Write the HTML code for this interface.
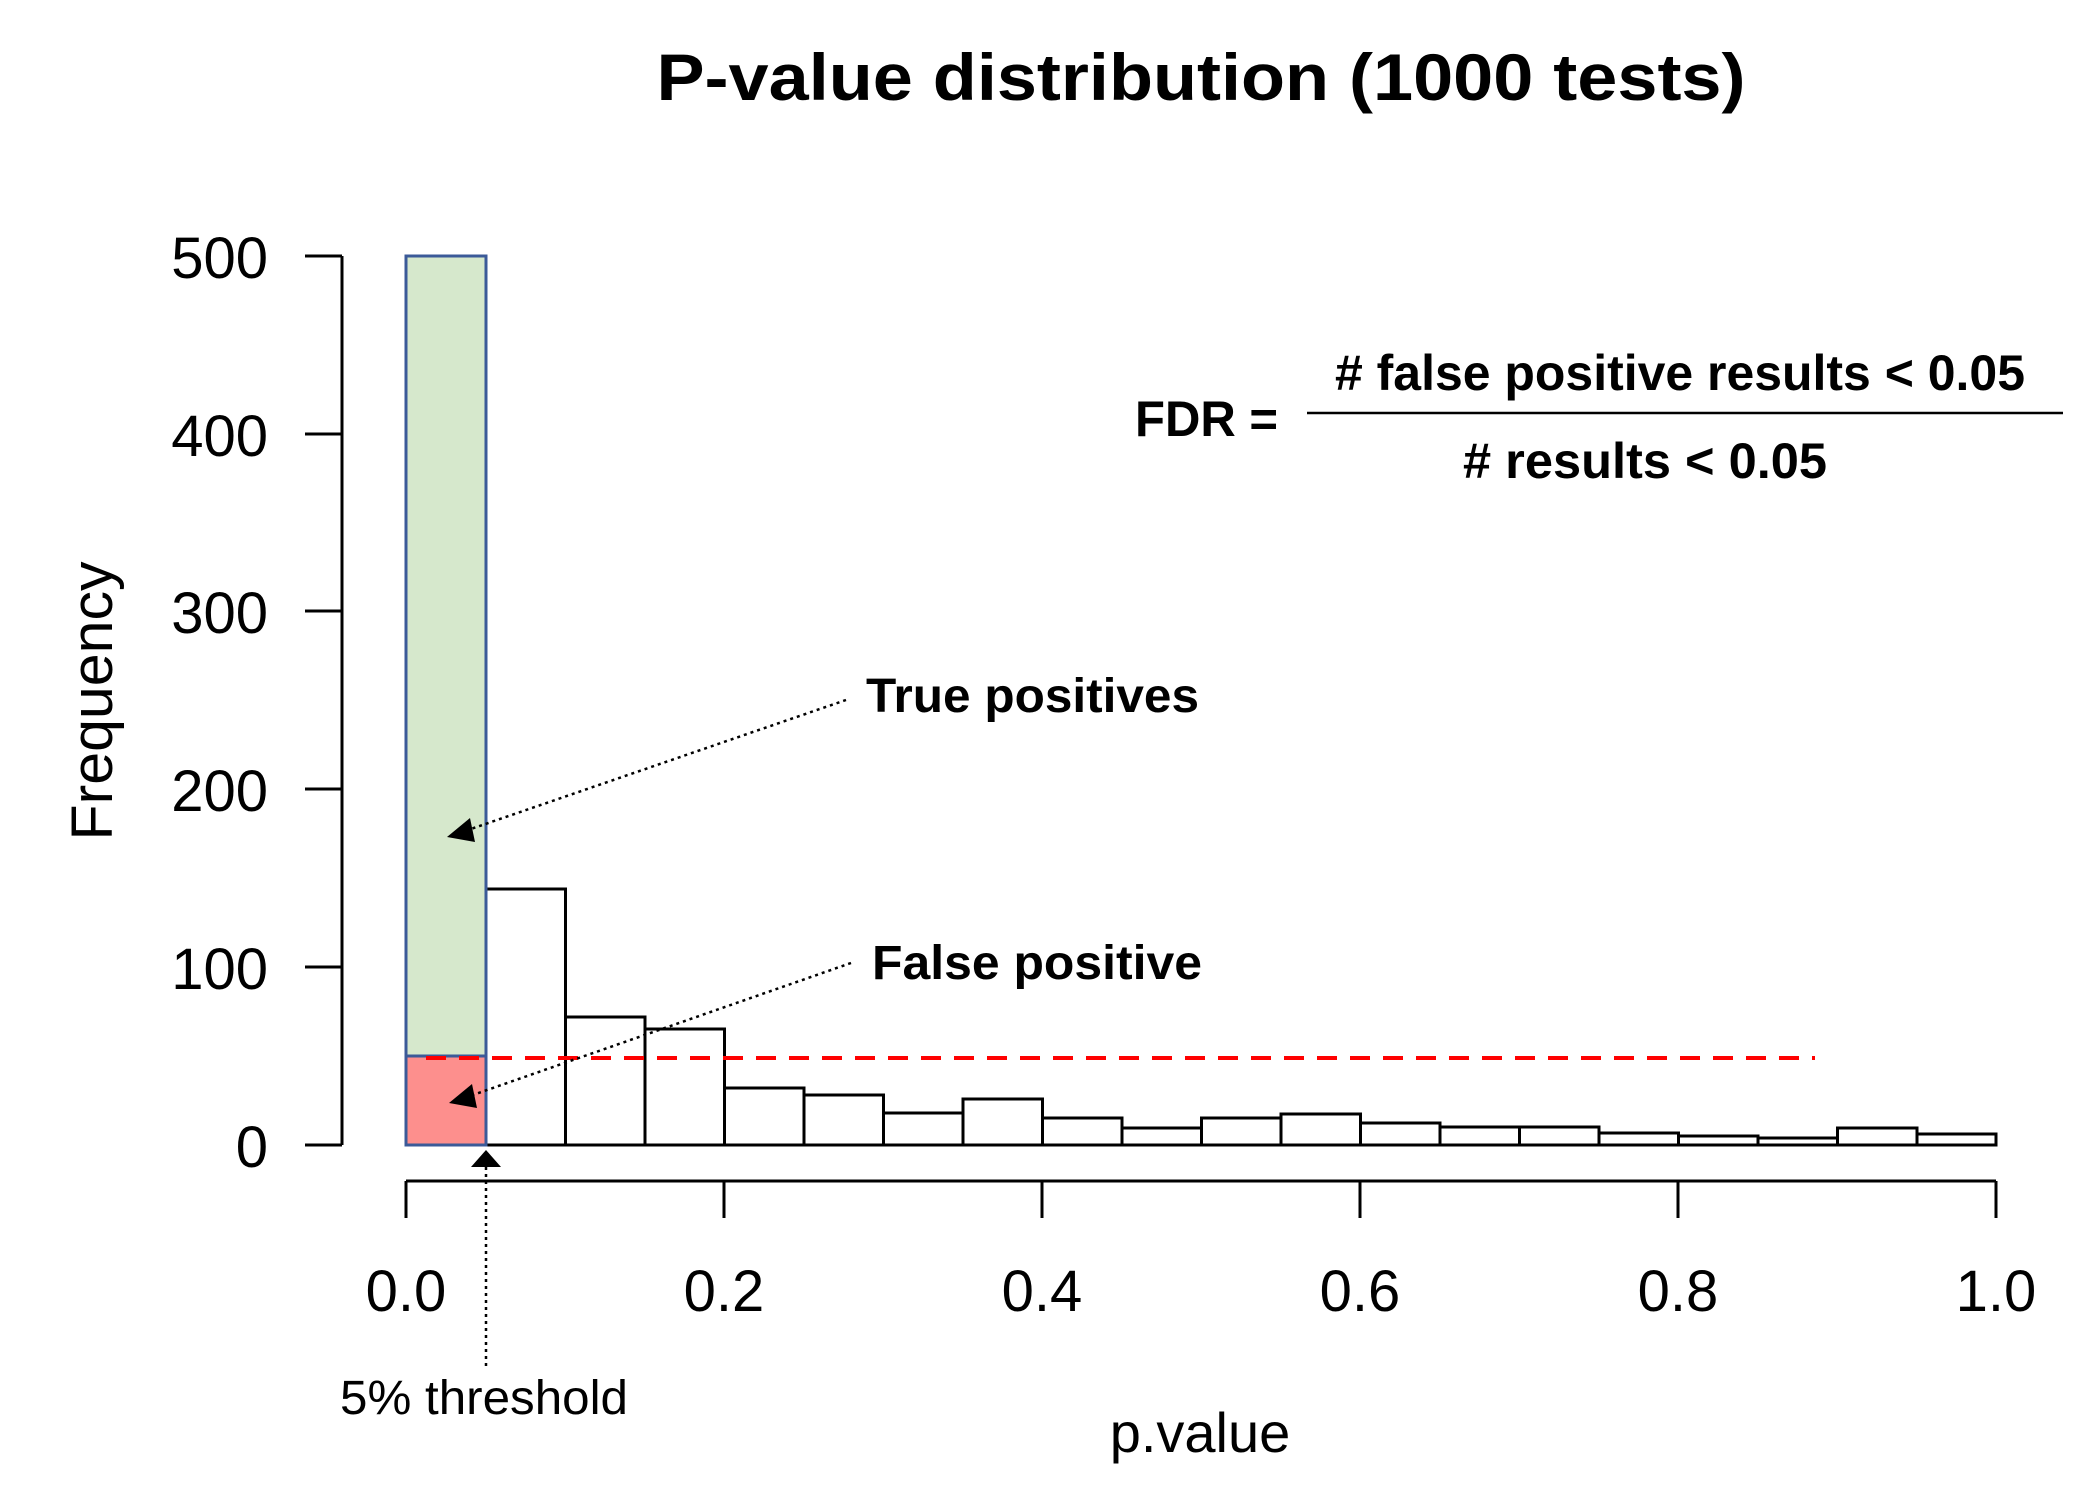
<!DOCTYPE html>
<html><head><meta charset="utf-8"><style>html,body{margin:0;padding:0;background:#fff}</style></head>
<body>
<svg width="2100" height="1486" viewBox="0 0 2100 1486" xmlns="http://www.w3.org/2000/svg" font-family="Liberation Sans, Arial, sans-serif">
<defs>
<marker id="ah" markerWidth="10" markerHeight="8" refX="9" refY="4" orient="auto" markerUnits="userSpaceOnUse" viewBox="0 0 10 8">
</marker>
</defs>
<text x="1201" y="100" font-size="66" font-weight="bold" text-anchor="middle" textLength="1089" lengthAdjust="spacingAndGlyphs">P-value distribution (1000 tests)</text>

<!-- y axis -->
<g stroke="#000" stroke-width="3" fill="none">
<line x1="342" y1="256" x2="342" y2="1145"/>
<line x1="305" y1="256" x2="342" y2="256"/>
<line x1="305" y1="434" x2="342" y2="434"/>
<line x1="305" y1="611" x2="342" y2="611"/>
<line x1="305" y1="789" x2="342" y2="789"/>
<line x1="305" y1="967" x2="342" y2="967"/>
<line x1="305" y1="1145" x2="342" y2="1145"/>
</g>
<g font-size="58" text-anchor="end">
<text x="268" y="278">500</text>
<text x="268" y="456">400</text>
<text x="268" y="633">300</text>
<text x="268" y="811">200</text>
<text x="268" y="989">100</text>
<text x="268" y="1167">0</text>
</g>
<text transform="translate(112,701) rotate(-90)" font-size="58" text-anchor="middle" textLength="279" lengthAdjust="spacingAndGlyphs">Frequency</text>

<!-- x axis -->
<g stroke="#000" stroke-width="3" fill="none">
<line x1="406" y1="1181" x2="1996" y2="1181"/>
<line x1="406" y1="1181" x2="406" y2="1218"/>
<line x1="724" y1="1181" x2="724" y2="1218"/>
<line x1="1042" y1="1181" x2="1042" y2="1218"/>
<line x1="1360" y1="1181" x2="1360" y2="1218"/>
<line x1="1678" y1="1181" x2="1678" y2="1218"/>
<line x1="1996" y1="1181" x2="1996" y2="1218"/>
</g>
<g font-size="58" text-anchor="middle">
<text x="406" y="1311">0.0</text>
<text x="724" y="1311">0.2</text>
<text x="1042" y="1311">0.4</text>
<text x="1360" y="1311">0.6</text>
<text x="1678" y="1311">0.8</text>
<text x="1996" y="1311">1.0</text>
</g>
<text x="1200" y="1452" font-size="56" text-anchor="middle">p.value</text>

<!-- bars -->
<g stroke="#000" stroke-width="3" fill="#fff">
<rect x="486" y="889" width="79.5" height="256"/>
<rect x="565.5" y="1017" width="79.5" height="128"/>
<rect x="645" y="1029" width="79.5" height="116"/>
<rect x="724.5" y="1088" width="79.5" height="57"/>
<rect x="804" y="1095" width="79.5" height="50"/>
<rect x="883.5" y="1113" width="79.5" height="32"/>
<rect x="963" y="1099" width="79.5" height="46"/>
<rect x="1042.5" y="1118" width="79.5" height="27"/>
<rect x="1122" y="1128" width="79.5" height="17"/>
<rect x="1201.5" y="1118" width="79.5" height="27"/>
<rect x="1281" y="1114" width="79.5" height="31"/>
<rect x="1360.5" y="1123" width="79.5" height="22"/>
<rect x="1440" y="1127" width="79.5" height="18"/>
<rect x="1519.5" y="1127" width="79.5" height="18"/>
<rect x="1599" y="1133" width="79.5" height="12"/>
<rect x="1678.5" y="1136" width="79.5" height="9"/>
<rect x="1758" y="1138" width="79.5" height="7"/>
<rect x="1837.5" y="1128" width="79.5" height="17"/>
<rect x="1917" y="1134" width="79" height="11"/>
</g>
<rect x="406" y="256" width="80" height="800" fill="#d6e8cc"/>
<rect x="406" y="1056" width="80" height="89" fill="#fd8f8d"/>
<g stroke="#3b5a98" stroke-width="3" fill="none">
<rect x="406" y="256" width="80" height="889"/>
<line x1="406" y1="1056" x2="486" y2="1056"/>
</g>

<!-- red dashed line -->
<line x1="426" y1="1058" x2="1815" y2="1058" stroke="#f00" stroke-width="4" stroke-dasharray="20 13"/>

<!-- arrows -->
<g stroke="#000" stroke-width="2.5" stroke-dasharray="3 4" fill="none">
<line x1="846" y1="700" x2="465" y2="831"/>
<line x1="851" y1="963" x2="467" y2="1097"/>
<line x1="486" y1="1167" x2="486" y2="1367"/>
</g>
<polygon points="447,837 470,818 475,842" fill="#000"/>
<polygon points="449,1103 472,1084 477,1108" fill="#000"/>
<polygon points="486,1150 471,1167 501,1167" fill="#000"/>

<g font-weight="bold" font-size="48">
<text x="866" y="712" textLength="333" lengthAdjust="spacingAndGlyphs">True positives</text>
<text x="872" y="979" textLength="330" lengthAdjust="spacingAndGlyphs">False positive</text>
</g>
<text x="340" y="1414" font-size="48" textLength="288" lengthAdjust="spacingAndGlyphs">5% threshold</text>

<!-- FDR -->
<g font-weight="bold" font-size="50">
<text x="1135" y="436" textLength="143" lengthAdjust="spacingAndGlyphs">FDR =</text>
<text x="1335" y="390" textLength="690" lengthAdjust="spacingAndGlyphs"># false positive results &lt; 0.05</text>
<text x="1463" y="478" textLength="364" lengthAdjust="spacingAndGlyphs"># results &lt; 0.05</text>
</g>
<line x1="1307" y1="413" x2="2063" y2="413" stroke="#000" stroke-width="2.5"/>
</svg>
</body></html>
